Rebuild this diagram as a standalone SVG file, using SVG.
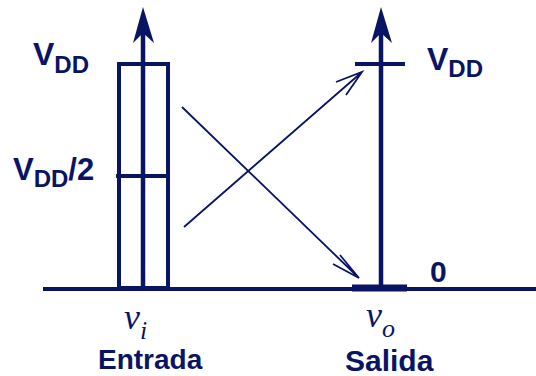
<svg xmlns="http://www.w3.org/2000/svg" width="536" height="376" viewBox="0 0 536 376">
<style>
.ax{stroke:#0a1464;fill:none;stroke-width:4.5}
.th{stroke:#0a1464;fill:none;stroke-width:4}
.dg{stroke:#0a1464;fill:none;stroke-width:1.8}
.lb{font-family:"Liberation Sans",Arial,sans-serif;font-weight:bold;fill:#0a1464}
.it{font-family:"Liberation Serif","Times New Roman",serif;font-style:italic;fill:#0a1464}
.ah{fill:#0a1464}
</style>
<g id="connectors">
<line class="th" x1="43" y1="289" x2="536" y2="289" stroke-width="3"/>
<path class="dg" d="M182,107 L359,278 M340,255 L359,278 L333,264"/>
<path class="dg" d="M184,227 L362,72 M336,82 L362,72 L346,95"/>
</g>
<g id="input-axis">
<rect class="th" x="119" y="64" width="49" height="224"/>
<line class="ax" x1="143" y1="288" x2="143" y2="30"/>
<path class="ah" d="M143,7 L154,43 L143,33 L133,43 Z"/>
<line class="th" x1="116" y1="176" x2="170" y2="176"/>
</g>
<g id="output-axis">
<line class="ax" x1="381" y1="288" x2="381" y2="30"/>
<path class="ah" d="M381,7 L392,43 L381,33 L371,43 Z"/>
<line class="th" x1="355" y1="64" x2="405" y2="64"/>
<line x1="352" y1="288" x2="407" y2="288" stroke="#0a1464" stroke-width="7"/>
</g>
<g id="labels">
<text class="lb" x="33" y="65" font-size="32">V<tspan font-size="24" dy="8">DD</tspan></text>
<text class="lb" x="13" y="180" font-size="31">V<tspan font-size="24" dy="7">DD</tspan><tspan font-size="31" dy="-7">/2</tspan></text>
<text class="lb" x="427" y="70" font-size="32">V<tspan font-size="24" dy="7">DD</tspan></text>
<text class="lb" x="430" y="282" font-size="30">0</text>
<text class="it" x="124" y="329" font-size="36">v<tspan font-size="26" dy="10">i</tspan></text>
<text class="it" x="366" y="327" font-size="36">v<tspan font-size="26" dy="10">o</tspan></text>
<text class="lb" x="98" y="369" font-size="28">Entrada</text>
<text class="lb" x="345" y="371" font-size="30">Salida</text>
</g>
</svg>
